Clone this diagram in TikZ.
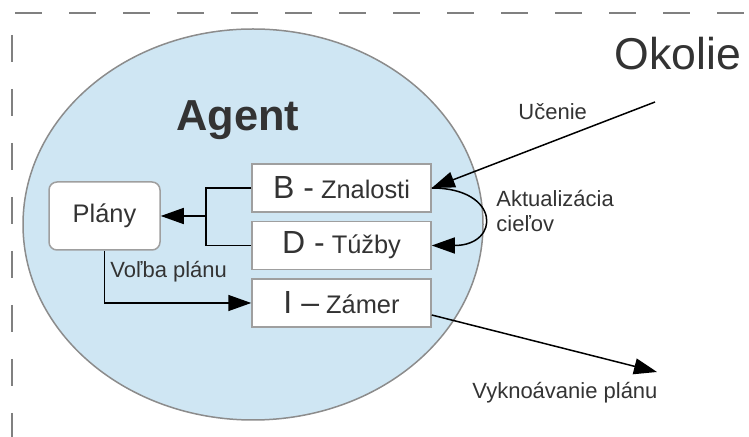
\documentclass[tikz,border=0pt]{standalone}
\usepackage{fontspec}
\setmainfont{Liberation Sans}
\usetikzlibrary{positioning,shapes.geometric,arrows.meta}

\definecolor{agentblue}{RGB}{207,230,243}
\definecolor{ink}{RGB}{51,51,51}
\newcommand{\bdihead}[1]{{\fontsize{16}{18}\selectfont #1}}

\begin{document}
\begin{tikzpicture}[
			x=0.5pt, y=-0.5pt
			,every node/.append style={text=ink}
			,bdi/.style={draw=gray!75, fill=white, line width=0.75pt, minimum width=89.5pt, minimum height=24pt, inner sep=0pt, font=\fontsize{12.7}{15}\selectfont}
			,plan/.style={bdi, rounded corners=4pt, minimum width=55.5pt, minimum height=34pt}
			,lbl/.style={inner sep=0pt, font=\fontsize{11}{12.5}\selectfont}
			,arr/.style={-{Triangle[length=11.5pt,width=8pt]}, line width=0.75pt}
			,border/.style={draw=gray, line width=0.6pt, dash pattern=on 13.5pt off 13.5pt}
		]
			\useasboundingbox (0,0) rectangle (749,437);
			\draw [border] (15,13) -- (749,13);
			\draw [border] (12,35) -- (12,437);

			% agent
			\node [ellipse, draw=gray!90, fill=agentblue, line width=0.75pt, minimum width=230pt, minimum height=195.5pt, inner sep=0pt] (agent) at (253,224.5) {};
			\node [font=\bfseries\fontsize{21.7}{24}\selectfont, anchor=base west, inner sep=0pt] (title) at (176,130.5) {Agent};
			\node [font=\fontsize{22.3}{24}\selectfont, anchor=base west, inner sep=0pt] (env) at (614,70) {Okolie};

			\node [bdi] (B) at (341.5,188) {\bdihead{B -} Znalosti};
			\node [bdi, below=4pt of B] (D) {\bdihead{D -} Túžby};
			\node [bdi, below=4pt of D] (I) {\bdihead{I –} Zámer};
			\node [plan] (P) at (104.5,216) {Plány};

			\coordinate (fork) at (206,216);
			\draw [line width=0.75pt] (B.west) -| (fork) |- (D.west);
			\draw [arr] (fork) -- (P.east);
			\draw [arr] (P.south) |- (I.west);
			\node [lbl, anchor=base west] (choice) at (110,278) {Voľba plánu};

			% outside
			\coordinate (learn) at (655,102);
			\draw [arr] (learn) -- (B.east);
			\node [lbl, anchor=base west] (learnlbl) at (518,120) {Učenie};
			\draw [arr] (B.east) .. controls +(34.5pt,0) and +(34.5pt,0) .. (D.east);
			\node [lbl, anchor=west, align=left] (update) at (496,211.5) {Aktualizácia\\cieľov};
			\coordinate (exec) at (657,372);
			\draw [arr] ([yshift=-6pt]I.east) -- (exec);
			\node [lbl, anchor=base west] (execlbl) at (472,399) {Vyknoávanie plánu};
		\end{tikzpicture}
\end{document}
